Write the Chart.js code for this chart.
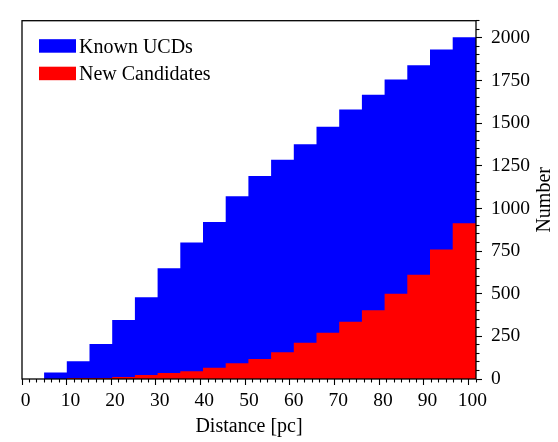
<!DOCTYPE html>
<html>
<head>
<meta charset="utf-8">
<script src="https://cdn.jsdelivr.net/npm/chart.js@4.4.1/dist/chart.umd.min.js"></script>
<style>
  html, body { margin: 0; padding: 0; background: #ffffff; }
  #wrap { width: 558px; height: 442px; position: relative; }
</style>
</head>
<body>
<div id="wrap"><canvas id="c" width="558" height="442"></canvas></div>
<script>
// ---- data (cumulative counts per 5 pc distance bin) ----
const binLeftEdges = [0, 5, 10, 15, 20, 25, 30, 35, 40, 45, 50, 55, 60, 65, 70, 75, 80, 85, 90, 95];
const binWidth = 5;
const knownUCDs = [0, 35, 100, 201, 342, 475, 646, 796, 916, 1068, 1186, 1281, 1372, 1475, 1576, 1662, 1752, 1835, 1928, 2000];
const newCandidates = [0, 0, 1, 3, 8, 20, 31, 42, 62, 89, 114, 153, 209, 267, 332, 400, 496, 608, 755, 909];
const seriesNames = ['Known UCDs', 'New Candidates'];
const seriesColors = ['#0000ff', '#ff0000'];
const xTickLabels = [0, 10, 20, 30, 40, 50, 60, 70, 80, 90, 100];
const yTickLabels = [0, 250, 500, 750, 1000, 1250, 1500, 1750, 2000];
const xMinorPerMajor = 6;   // 5 minor ticks between labelled ticks
const yMinorPerMajor = 5;   // 4 minor ticks between labelled ticks
const xTitle = 'Distance [pc]';
const yTitle = 'Number';
const yMax = 2100;

const FONT = "'Liberation Serif', 'Times New Roman', serif";

const binLabels = binLeftEdges.map((x0) => x0 + '-' + (x0 + binWidth));

function minorTicks(majors, per, upTo) {
  const step = (majors[1] - majors[0]) / per;
  const out = [];
  for (let i = 0; majors[0] + i * step <= upTo + 1e-9; i++) out.push({ value: majors[0] + i * step });
  return out;
}

const framePlugin = {
  id: 'frame',
  afterDraw(chart) {
    const { ctx, chartArea: a } = chart;
    ctx.save();
    ctx.strokeStyle = '#000';
    ctx.lineWidth = 1.3;
    ctx.strokeRect(a.left, a.top, a.right - a.left, a.bottom - a.top);
    // rotated y title (reads bottom to top)
    ctx.fillStyle = '#000';
    ctx.font = "20px " + FONT;
    ctx.textAlign = 'center';
    ctx.textBaseline = 'middle';
    ctx.translate(545, (a.top + a.bottom) / 2);
    ctx.rotate(-Math.PI / 2);
    ctx.fillText(yTitle, 0, 0);
    ctx.restore();
  }
};

const legendPlugin = {
  id: 'innerLegend',
  afterDraw(chart) {
    const { ctx, chartArea: a } = chart;
    ctx.save();
    ctx.font = "20px " + FONT;
    ctx.textBaseline = 'alphabetic';
    ctx.textAlign = 'left';
    chart.data.datasets.forEach((ds, i) => {
      const bx = a.left + 17, by = a.top + 18.5 + i * 27.5;
      ctx.fillStyle = ds.backgroundColor;
      ctx.fillRect(bx, by, 37, 13.5);
      ctx.fillStyle = '#000';
      ctx.fillText(ds.label, bx + 40, by + 13.5);
    });
    ctx.restore();
  }
};

new Chart(document.getElementById('c'), {
  type: 'bar',
  data: {
    labels: binLabels,
    datasets: [
      { label: seriesNames[0], data: knownUCDs, backgroundColor: seriesColors[0], order: 2 },
      { label: seriesNames[1], data: newCandidates, backgroundColor: seriesColors[1], order: 1 }
    ]
  },
  options: {
    responsive: false,
    devicePixelRatio: 1,
    animation: false,
    layout: { padding: { left: 22, top: 6, right: 0, bottom: 0 } },
    datasets: { bar: {
      grouped: false, categoryPercentage: 1, barPercentage: 1, borderWidth: 0,
      inflateAmount: (ctx) => (ctx.raw > 0 ? 0.6 : 0)
    } },
    plugins: { legend: { display: false }, tooltip: { enabled: false } },
    scales: {
      x: { type: 'category', display: false, offset: true },
      xd: {
        type: 'linear', position: 'bottom', axis: 'x', min: 0, max: 100,
        border: { display: false },
        grid: {
          drawOnChartArea: false, tickLength: 6, tickColor: '#000', tickWidth: 1.1,
          tickBorderDash: (ctx) => (ctx.index % xMinorPerMajor === 0 ? [] : [3.5, 50])
        },
        ticks: {
          autoSkip: false, maxRotation: 0, color: '#000', padding: 4,
          font: { family: FONT, size: 19.5 },
          callback: (v, i) => (i % xMinorPerMajor === 0 ? String(xTickLabels[i / xMinorPerMajor]) : '')
        },
        afterBuildTicks: (s) => { s.ticks = minorTicks(xTickLabels, xMinorPerMajor, 100); },
        title: { display: true, text: xTitle, color: '#000', font: { family: FONT, size: 20 }, padding: { top: 0, bottom: 3 } },
        afterFit: (s) => { s.height = 63; }
      },
      y: {
        type: 'linear', position: 'right', min: 0, max: yMax,
        border: { display: false },
        grid: {
          drawOnChartArea: false, tickLength: 6, tickColor: '#000', tickWidth: 1.1,
          tickBorderDash: (ctx) => (ctx.index % yMinorPerMajor === 0 ? [] : [3.5, 50])
        },
        ticks: {
          autoSkip: false, color: '#000', padding: 9,
          font: { family: FONT, size: 19.5 },
          callback: (v, i) => (i % yMinorPerMajor === 0 && yTickLabels[i / yMinorPerMajor] !== undefined ? String(yTickLabels[i / yMinorPerMajor]) : '')
        },
        afterBuildTicks: (s) => { s.ticks = minorTicks(yTickLabels, yMinorPerMajor, yMax); },
        afterFit: (s) => { s.width = 82; }
      }
    }
  },
  plugins: [framePlugin, legendPlugin]
});
</script>
</body>
</html>
